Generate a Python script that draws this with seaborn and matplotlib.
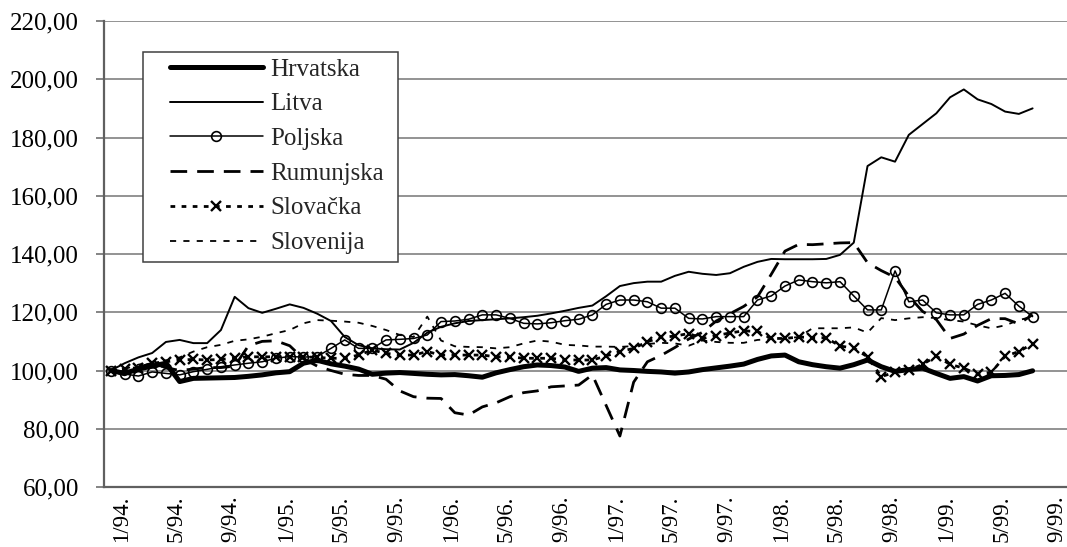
import numpy as np
import pandas as pd
import matplotlib
matplotlib.use("Agg")
import matplotlib.pyplot as plt
import matplotlib.transforms as mtransforms
import seaborn as sns
from matplotlib.patches import Rectangle

# ---------------- data ----------------
# monthly categories 12/93 .. 9/99 on the axis, data from 12/93 .. 7/99
categories = ["12/93."] + [f"{m}/{y}." for y in range(94, 100) for m in range(1, 13)][:69]
tick_labels = ["1/94.", "5/94.", "9/94.", "1/95.", "5/95.", "9/95.", "1/96.", "5/96.", "9/96.",
               "1/97.", "5/97.", "9/97.", "1/98.", "5/98.", "9/98.", "1/99.", "5/99.", "9/99."]
y_ticks = [60, 80, 100, 120, 140, 160, 180, 200, 220]
y_labels = ["60,00", "80,00", "100,00", "120,00", "140,00", "160,00", "180,00", "200,00", "220,00"]

hrvatska = [100, 99, 100.5, 101.5, 102.5, 96.2, 97.3, 97.4, 97.5, 97.6,
            98, 98.5, 99.2, 99.6, 102.5, 103.5, 102.3, 101.5, 100.5, 98.7,
            99.1, 99.3, 99, 98.7, 98.5, 98.6, 98.2, 97.7, 99.2, 100.3,
            101.3, 101.9, 101.7, 101.2, 99.7, 100.8, 101, 100.2, 100, 99.7,
            99.5, 99.1, 99.5, 100.3, 100.9, 101.5, 102.2, 103.8, 105, 105.3,
            103, 102, 101.3, 100.8, 102, 103.6, 101.3, 99.7, 100.3, 100.8,
            99, 97.3, 97.9, 96.4, 98.2, 98.3, 98.6, 99.9]
litva = [100, 102.5, 104.5, 106, 109.8, 110.5, 109.4, 109.4, 113.9, 125.3,
         121.4, 119.8, 121.2, 122.7, 121.5, 119.5, 117, 111.5, 108.7, 107.6,
         107.3, 107.2, 109.5, 113, 115, 116.2, 117, 117.3, 117.6, 117.9,
         118.3, 118.8, 119.6, 120.5, 121.5, 122.3, 125.5, 129, 130, 130.5,
         130.5, 132.5, 133.9, 133.2, 132.8, 133.4, 135.6, 137.3, 138.3, 138.2,
         138.2, 138.2, 138.3, 139.7, 143.9, 170.2, 173.2, 171.7, 180.9, 184.6,
         188.3, 193.8, 196.5, 193.1, 191.5, 188.9, 188.1, 190]
poljska = [100, 98.8, 98.1, 99.5, 99, 98.5, 99.6, 100.4, 101.3, 101.9,
           102.5, 103, 104.2, 104.8, 104.6, 104.8, 107.6, 110.5, 107.6, 107.6,
           110.5, 110.7, 111, 112.2, 116.8, 117, 117.6, 119.1, 119.1, 117.9,
           116.2, 116, 116.4, 117.1, 117.6, 119.1, 122.7, 124.2, 124.2, 123.6,
           121.4, 121.4, 117.9, 117.7, 118.5, 118.5, 118.5, 124.2, 125.6, 129,
           131.1, 130.5, 130.1, 130.5, 125.6, 120.8, 120.8, 134.2, 123.6, 124.2,
           119.8, 119.1, 119.1, 122.7, 124.2, 126.5, 122.1, 118.5]
rumunjska = [100, 98.5, 101, 102.5, 101, 100, 100.5, 101, 101, 101.5,
             108.5, 110, 110.2, 108.5, 104, 101.5, 100, 98.7, 98.3, 98.3,
             97, 93, 91, 90.5, 90.4, 85.5, 84.7, 87.5, 88.9, 91,
             92.4, 93, 94.4, 94.7, 95, 98.5, 88, 77.5, 96, 103,
             105.2, 107.9, 110.8, 113.1, 117, 119.5, 122, 125.3, 133, 141,
             143.3, 143.2, 143.5, 143.8, 143.9, 137, 134.3, 132, 125.5, 120.3,
             117.5, 111, 112.5, 115.5, 117.8, 117.8, 116, 119.2]
slovacka = [100, 100.5, 101, 102.5, 103, 103.6, 103.8, 103.6, 103.8, 104.2,
            104.7, 104.7, 104.7, 104.7, 104.7, 104.5, 104.2, 104.2, 105.3, 107,
            105.9, 105.3, 105.3, 106.5, 105.3, 105.3, 105.3, 105.3, 104.7, 104.7,
            104.2, 104.2, 104.2, 103.6, 103.6, 103.6, 105, 106.5, 107.6, 109.9,
            111.4, 111.8, 112.7, 111, 112, 112.9, 113.6, 113.4, 111, 111,
            111.5, 111.3, 111.2, 108.4, 107.7, 104.7, 97.9, 99.4, 100.1, 102.1,
            104.9, 102.1, 100.8, 98.7, 99.4, 104.9, 106.5, 109.2]
slovenija = [100, 100.5, 102, 103, 103.5, 104.5, 106.5, 108, 108.8, 110.2,
             110.7, 111.6, 112.8, 113.9, 116.2, 117.3, 117.1, 116.8, 116.4, 115.3,
             113.9, 112.2, 111.5, 118.5, 110.3, 108.3, 108.1, 108, 107.6, 108,
             109.3, 110.3, 109.9, 108.8, 108.6, 108.2, 108.2, 108.1, 108.4, 109.1,
             109.5, 109.3, 108.5, 110.3, 109.8, 109.5, 109.5, 110.5, 110.8, 111,
             111.5, 114.5, 114.5, 114.5, 114.8, 113, 118, 117.3, 117.9, 118.3,
             118, 117.3, 116.8, 115.5, 114.5, 115.5, 117.3, 118.5]

series_names = ["Hrvatska", "Litva", "Poljska", "Rumunjska", "Slovačka", "Slovenija"]
series_values = [hrvatska, litva, poljska, rumunjska, slovacka, slovenija]

rows = []
for name, vals in zip(series_names, series_values):
    for i, v in enumerate(vals):
        rows.append({"idx": i, "month": categories[i], "value": v, "country": name})
df = pd.DataFrame(rows)

# ---------------- style ----------------
sns.set_theme(style="white")
plt.rcParams["font.family"] = ["Liberation Serif", "DejaVu Serif"]

FS = 18
W, H = 1067, 547
fig = plt.figure(figsize=(W / 100, H / 100), dpi=100)
ax = fig.add_axes([104 / W, (H - 487) / H, 963 / W, 466 / H])

styles = {
    "Hrvatska": dict(lw=3.6, ls="-"),
    "Litva": dict(lw=1.4, ls="-"),
    "Poljska": dict(lw=1.1, ls="-", marker="o", markersize=7, markerfacecolor="none",
                    markeredgecolor="black", markeredgewidth=1.2),
    "Rumunjska": dict(lw=2.0, ls=(0, (6.0, 3.6))),
    "Slovačka": dict(lw=2.0, ls=(0, (1.7, 2.3)), marker="x", markersize=6.5,
                     markeredgecolor="black", markeredgewidth=1.7),
    "Slovenija": dict(lw=1.3, ls=(0, (3.4, 4.0))),
}

handles = []
for z, name in enumerate(series_names):
    sub = df[df["country"] == name]
    n_before = len(ax.lines)
    sns.lineplot(data=sub, x="idx", y="value", ax=ax, color="black", sort=False,
                 errorbar=None, estimator=None, legend=False, zorder=3 + z,
                 **styles[name])
    line = ax.lines[n_before]
    line.set_label(name)
    handles.append(line)

# axes
ax.set_xlim(-0.5, len(categories) - 0.5)
ax.set_ylim(60, 220)
ax.set_yticks(y_ticks)
ax.set_yticklabels(y_labels, fontsize=FS, color="black")
label_pos = [categories.index(t) for t in tick_labels]
ax.set_xticks(label_pos)
ax.set_xticklabels(tick_labels, rotation=90, fontsize=16.5, color="black")
ax.set_xticks(np.arange(-0.5, len(categories), 1), minor=True)
ax.tick_params(axis="x", which="major", length=0, pad=6)
ax.tick_params(axis="x", which="minor", length=7, width=1.2, color="#707070", direction="out")
ax.tick_params(axis="y", which="major", length=6, width=1.2, color="#707070", pad=12, left=True)
ax.set_xlabel("")
ax.set_ylabel("")

# shift x labels a few pixels left, as in the reference
shift = mtransforms.ScaledTranslation(-3.5 / 100, 0, fig.dpi_scale_trans)
for lbl in ax.get_xticklabels():
    lbl.set_transform(lbl.get_transform() + shift)

ax.yaxis.grid(True, color="#8a8a8a", lw=1.3)
ax.xaxis.grid(False)
ax.set_axisbelow(True)
for s in ["top", "right"]:
    ax.spines[s].set_visible(False)
for s in ["left", "bottom"]:
    ax.spines[s].set_color("#606060")
    ax.spines[s].set_linewidth(1.6)

# legend box
ax.add_patch(Rectangle(((143 - 104) / 963, (487 - 262) / 466), (398 - 143) / 963, (262 - 52) / 466,
                       transform=ax.transAxes, facecolor="white", edgecolor="#404040",
                       lw=1.1, zorder=20))
leg = ax.legend(handles=handles, loc="upper left",
                bbox_to_anchor=((170 - 104) / 963, (487 - 58) / 466),
                frameon=False, fontsize=FS, handlelength=3.7, handletextpad=0.3,
                labelspacing=0.49, borderpad=0, borderaxespad=0, numpoints=1)
leg.set_zorder(21)

fig.savefig("out.png", dpi=100)
